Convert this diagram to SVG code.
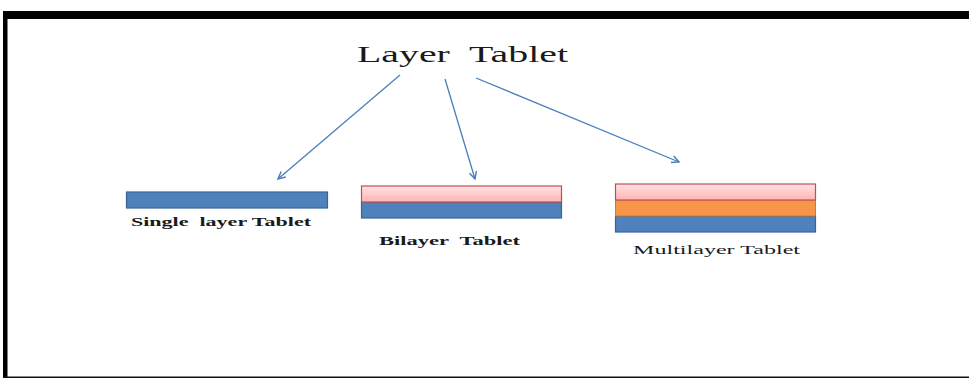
<svg xmlns="http://www.w3.org/2000/svg" width="969" height="378" viewBox="0 0 969 378">
<style>
.blue{fill:#4F81BD;stroke:#3A6496;stroke-width:1.2}
.pink{fill:url(#pg);stroke:#C0504D;stroke-width:1.2}
.orange{fill:#F79646;stroke:#C77A3A;stroke-width:1}
.lbl{font-family:"Liberation Serif","Times New Roman",serif;fill:#1a1a1a}
.conn{stroke:#4A7EBB;stroke-width:1.3;fill:none;marker-end:url(#ah)}
</style>
<defs>
<linearGradient id="pg" x1="0" y1="0" x2="0" y2="1">
<stop offset="0" stop-color="#FFE3E3"/>
<stop offset="1" stop-color="#FFB3B3"/>
</linearGradient>
<marker id="ah" viewBox="0 0 10 10" refX="9" refY="5" markerWidth="9" markerHeight="9" markerUnits="userSpaceOnUse" orient="auto">
<path d="M1,1 L9,5 L1,9" fill="none" stroke="#4A7EBB" stroke-width="1.6"/>
</marker>
</defs>
<g id="frame">
<rect x="3" y="11" width="966" height="8" fill="#000"/>
<rect x="3" y="11" width="4.5" height="367" fill="#000"/>
<rect x="3" y="376.5" width="966" height="1.5" fill="#111"/>
</g>
<g id="title">
<text class="lbl" x="357" y="62" font-size="24" textLength="211" lengthAdjust="spacingAndGlyphs" xml:space="preserve">Layer  Tablet</text>
</g>
<g id="connectors">
<line class="conn" x1="400" y1="75" x2="278" y2="179"/>
<line class="conn" x1="445" y1="79" x2="475" y2="179"/>
<line class="conn" x1="476" y1="78" x2="679" y2="162"/>
</g>
<g id="single">
<rect class="blue" x="126.5" y="192" width="201" height="16"/>
<text class="lbl" x="131" y="226" font-size="13" font-weight="bold" textLength="180" lengthAdjust="spacingAndGlyphs" xml:space="preserve">Single  layer Tablet</text>
</g>
<g id="bilayer">
<rect class="blue" x="361.5" y="202" width="200" height="16"/>
<rect class="pink" x="361.5" y="186" width="200" height="16"/>
<text class="lbl" x="379" y="244.5" font-size="12.5" font-weight="bold" textLength="141" lengthAdjust="spacingAndGlyphs" xml:space="preserve">Bilayer  Tablet</text>
</g>
<g id="multilayer">
<rect class="blue" x="615.5" y="216" width="200" height="16"/>
<rect class="orange" x="615.5" y="200" width="200" height="16"/>
<rect class="pink" x="615.5" y="184" width="200" height="16"/>
<text class="lbl" x="633" y="254" font-size="12.5" textLength="167" lengthAdjust="spacingAndGlyphs">Multilayer Tablet</text>
</g>
</svg>
